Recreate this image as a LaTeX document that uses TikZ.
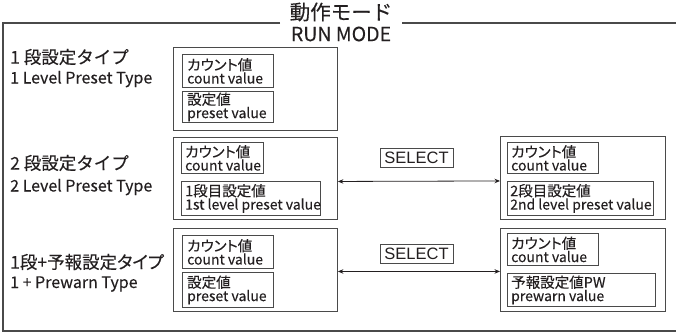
\documentclass[tikz,border=0pt]{standalone}
\usepackage{fontspec}
\setmainfont{Noto Sans CJK JP}[FakeBold=0.2]
\newfontfamily\pfont{Noto Sans CJK JP}[RawFeature=+palt, FakeBold=0.2]
\newfontfamily\selfont{Liberation Sans}
\usetikzlibrary{arrows.meta}
\definecolor{linec}{HTML}{4A4A4A}
\definecolor{txtc}{HTML}{231F20}
\newcommand\jl[1]{{\pfont\fontsize{14.5}{14.5}\selectfont #1}}
\newcommand\el[1]{{\pfont\fontsize{14}{14.5}\selectfont #1}}
\begin{document}
\begin{tikzpicture}[x=1pt,y=-1pt,
  outerbox/.style={draw=linec, line width=0.9pt, inner sep=0pt, anchor=north west},
  innerbox/.style={draw=linec, line width=0.8pt, anchor=north west, inner sep=0pt},
  intext/.style={anchor=west, inner sep=0pt, align=left, text=txtc},
  lbl/.style={anchor=west, inner sep=0pt, text=txtc},
  frame/.style={draw=linec, line width=1.4pt},
  selbox/.style={draw=linec, line width=0.8pt, inner sep=0pt, minimum width=73pt, minimum height=19pt, font=\selfont\fontsize{16.5}{16.5}\selectfont, text=txtc},
  conn/.style={draw=txtc, line width=0.8pt, {Stealth[length=5.5pt,width=4.5pt]}-{Stealth[length=5.5pt,width=4.5pt]}}
]
\useasboundingbox (0,0) rectangle (676,333);
% frame
\coordinate (f1) at (280,23);
\coordinate (f0) at (3,23);
\coordinate (fb) at (3,331);
\coordinate (fr) at (676,331);
\coordinate (f2) at (402,23);
\coordinate (f3) at (676,23);
\draw[frame] (f1) -- (f0) -- (fb) -- (fr);
\draw[frame] (f2) -- (f3);
% title
\node[inner sep=0pt, text=txtc, font=\fontsize{20.5}{20.5}\selectfont] (t1) at (341,12) {動作モード};
\node[inner sep=0pt, text=txtc, font=\pfont\fontsize{19.5}{19.5}\selectfont] (t2) at (341,34) {RUN MODE};
% left labels
\node[lbl, font=\fontsize{17.5}{17.5}\selectfont] (l1j) at (10,57) {1 段設定タイプ};
\node[lbl, font=\fontsize{16}{16}\selectfont] (l1e) at (10,79) {1 Level Preset Type};
\node[lbl, font=\fontsize{17.5}{17.5}\selectfont] (l2j) at (10,163) {2 段設定タイプ};
\node[lbl, font=\fontsize{16}{16}\selectfont] (l2e) at (10,187) {2 Level Preset Type};
\node[lbl, font=\pfont\fontsize{17.5}{17.5}\selectfont] (l3j) at (10,262) {1段+予報設定タイプ};
\node[lbl, font=\fontsize{16}{16}\selectfont] (l3e) at (10,284) {1 + Prewarn Type};
% row 1
\node[outerbox, minimum width=164pt, minimum height=83pt] (b1l) at (173,47) {};
\node[innerbox, minimum width=91pt, minimum height=33pt] (b1a) at (182,54) {};
\node[intext] (b1at) at ([xshift=5pt]b1a.west) {\jl{カウント値}\\\el{count value}};
\node[innerbox, minimum width=91pt, minimum height=31pt] (b1b) at (182,91) {};
\node[intext] (b1bt) at ([xshift=5pt]b1b.west) {\jl{設定値}\\\el{preset value}};
% row 2
\node[outerbox, minimum width=164pt, minimum height=82pt] (b2l) at (173,137) {};
\node[innerbox, minimum width=82pt, minimum height=31pt] (b2a) at (181,142) {};
\node[intext] (b2at) at ([xshift=4pt]b2a.west) {\jl{カウント値}\\\el{count value}};
\node[innerbox, minimum width=139pt, minimum height=34pt] (b2b) at (181,181) {};
\node[intext] (b2bt) at ([xshift=4pt]b2b.west) {\jl{1段目設定値}\\\el{1st level preset value}};
\node[outerbox, minimum width=165pt, minimum height=83pt] (b2r) at (500,136) {};
\node[innerbox, minimum width=91pt, minimum height=31pt] (b2ra) at (507,142) {};
\node[intext] (b2rat) at ([xshift=4pt]b2ra.west) {\jl{カウント値}\\\el{count value}};
\node[innerbox, minimum width=146pt, minimum height=34pt] (b2rb) at (507,181) {};
\node[intext] (b2rbt) at ([xshift=3pt]b2rb.west) {\jl{2段目設定値}\\\el{2nd level preset value}};
\node[selbox] (s2) at (416.5,157.5) {SELECT};
\draw[conn] ([yshift=-3pt]b2l.east) -- ([yshift=-3pt]b2r.west);
% row 3
\node[outerbox, minimum width=164pt, minimum height=83pt] (b3l) at (173,228) {};
\node[innerbox, minimum width=91pt, minimum height=33pt] (b3a) at (182,235) {};
\node[intext] (b3at) at ([xshift=5pt]b3a.west) {\jl{カウント値}\\\el{count value}};
\node[innerbox, minimum width=91pt, minimum height=35pt] (b3b) at (182,272) {};
\node[intext] (b3bt) at ([xshift=5pt]b3b.west) {\jl{設定値}\\\el{preset value}};
\node[outerbox, minimum width=165pt, minimum height=83pt] (b3r) at (500,228) {};
\node[innerbox, minimum width=91pt, minimum height=32pt] (b3ra) at (507,233) {};
\node[intext] (b3rat) at ([xshift=4pt]b3ra.west) {\jl{カウント値}\\\el{count value}};
\node[innerbox, minimum width=148pt, minimum height=33pt] (b3rb) at (507,273) {};
\node[intext] (b3rbt) at ([xshift=4pt]b3rb.west) {\jl{予報設定値PW}\\\el{prewarn value}};
\node[selbox] (s3) at (416.5,253.5) {SELECT};
\draw[conn] ([yshift=-1.5pt]b3l.east) -- ([yshift=-1.5pt]b3r.west);
\end{tikzpicture}
\end{document}
